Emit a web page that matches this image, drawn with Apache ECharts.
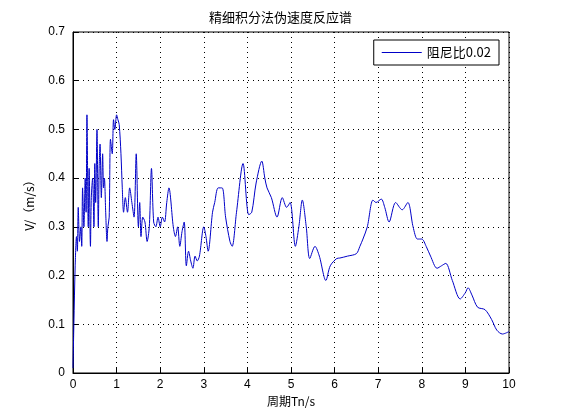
<!DOCTYPE html>
<html><head><meta charset="utf-8">
<script src="https://cdn.jsdelivr.net/npm/echarts@6/dist/echarts.min.js"></script>
<style>html,body{margin:0;padding:0;background:#fff}#main{width:561px;height:420px}</style>
</head><body><div id="main"></div>
<script>
// 周期 T (s)
var periods = [0,0.02,0.05,0.08,0.1,0.12,0.15,0.18,0.2,0.22,0.25,0.28,0.3,0.32,0.35,0.37,0.4,0.42,0.45,0.48,0.5,0.52,0.55,0.58,0.6,0.62,0.65,0.68,0.7,0.72,0.75,0.78,0.8,0.83,0.86,0.9,0.93,0.96,1.0,1.03,1.06,1.1,1.13,1.16,1.2,1.25,1.3,1.35,1.4,1.45,1.5,1.53,1.56,1.6,1.65,1.7,1.75,1.8,1.85,1.9,1.95,2.0,2.05,2.1,2.15,2.2,2.3,2.35,2.4,2.45,2.5,2.55,2.6,2.65,2.7,2.75,2.8,2.85,2.9,3.0,3.05,3.1,3.2,3.25,3.33,3.42,3.5,3.6,3.65,3.75,3.9,4.03,4.1,4.2,4.33,4.4,4.45,4.55,4.68,4.8,4.9,4.98,5.1,5.18,5.26,5.35,5.43,5.55,5.65,5.8,5.9,6.05,6.12,6.3,6.5,6.58,6.65,6.75,6.88,6.95,7.07,7.15,7.25,7.4,7.55,7.68,7.8,7.9,8.0,8.1,8.2,8.35,8.45,8.55,8.7,8.88,9.0,9.06,9.15,9.28,9.45,9.6,9.72,9.85,10.0];
var velocity = [0.01,0.1,0.22,0.28,0.25,0.34,0.27,0.3,0.26,0.38,0.3,0.4,0.33,0.53,0.3,0.42,0.26,0.36,0.4,0.3,0.43,0.35,0.5,0.3,0.42,0.47,0.36,0.45,0.38,0.4,0.33,0.27,0.3,0.32,0.48,0.45,0.52,0.5,0.53,0.52,0.51,0.45,0.38,0.33,0.36,0.33,0.38,0.35,0.32,0.45,0.3,0.35,0.28,0.32,0.31,0.27,0.3,0.42,0.31,0.3,0.32,0.3,0.32,0.31,0.35,0.38,0.3,0.28,0.3,0.26,0.29,0.31,0.22,0.25,0.23,0.215,0.24,0.23,0.24,0.3,0.28,0.25,0.33,0.35,0.38,0.38,0.32,0.27,0.26,0.33,0.43,0.325,0.33,0.39,0.435,0.4,0.38,0.36,0.32,0.36,0.34,0.35,0.26,0.3,0.355,0.3,0.235,0.26,0.24,0.19,0.22,0.235,0.236,0.24,0.245,0.26,0.275,0.3,0.355,0.35,0.357,0.34,0.31,0.35,0.335,0.35,0.3,0.275,0.275,0.26,0.24,0.215,0.22,0.225,0.19,0.152,0.165,0.175,0.16,0.135,0.13,0.11,0.088,0.08,0.085];
var xTicks = [0,1,2,3,4,5,6,7,8,9,10];
var yTicks = [0,0.1,0.2,0.3,0.4,0.5,0.6,0.7];

var pts = [];
for (var i = 0; i < periods.length; i++) pts.push([periods[i], velocity[i]]);

var myChart = echarts.init(document.getElementById('main'));
var txt = { color: '#000', fontSize: 12, fontFamily: 'Noto Sans CJK SC' };
var option = {
	animation: false,
	title: { text: '精细积分法伪速度反应谱', left: 'center', top: 6, textStyle: { color: '#000', fontSize: 13, fontWeight: 'normal', fontFamily: 'Noto Sans CJK SC' } },
	legend: {
		data: ['阻尼比0.02'], right: 62, top: 40, itemWidth: 40, itemHeight: 1, icon: 'rect',
		borderColor: '#000', borderWidth: 1, padding: [6, 8], backgroundColor: '#fff',
		textStyle: { color: '#000', fontSize: 13, fontFamily: 'Noto Sans CJK SC' }
	},
	grid: { left: 73, right: 52, top: 32, bottom: 47, show: true, borderColor: '#000', borderWidth: 1 },
	xAxis: {
		type: 'value', min: 0, max: 10, interval: 1,
		name: '周期Tn/s', nameLocation: 'middle', nameGap: 20, nameTextStyle: txt,
		axisLine: { lineStyle: { color: '#000' } }, axisTick: { inside: true, length: 5, lineStyle: { color: '#000' } },
		axisLabel: { color: '#000', fontSize: 12, fontFamily: 'Liberation Sans', margin: 6 },
		splitLine: { show: true, lineStyle: { color: '#000', type: [1, 4], width: 1 } }
	},
	yAxis: {
		type: 'value', min: 0, max: 0.7, interval: 0.1,
		name: 'V/（m/s）', nameLocation: 'middle', nameGap: 38, nameTextStyle: txt,
		axisLine: { lineStyle: { color: '#000' } }, axisTick: { inside: true, length: 5, lineStyle: { color: '#000' } },
		axisLabel: { color: '#000', fontSize: 12, fontFamily: 'Liberation Sans', formatter: function (v) { return +v.toFixed(1) + ''; } },
		splitLine: { show: true, lineStyle: { color: '#000', type: [1, 4], width: 1 } }
	},
	series: [{
		name: '阻尼比0.02', type: 'line', data: pts, showSymbol: false, smooth: 0.3,
		lineStyle: { color: '#0000c8', width: 1 }, itemStyle: { color: '#0000c8' }
	}]
};
myChart.setOption(option);
</script></body></html>
